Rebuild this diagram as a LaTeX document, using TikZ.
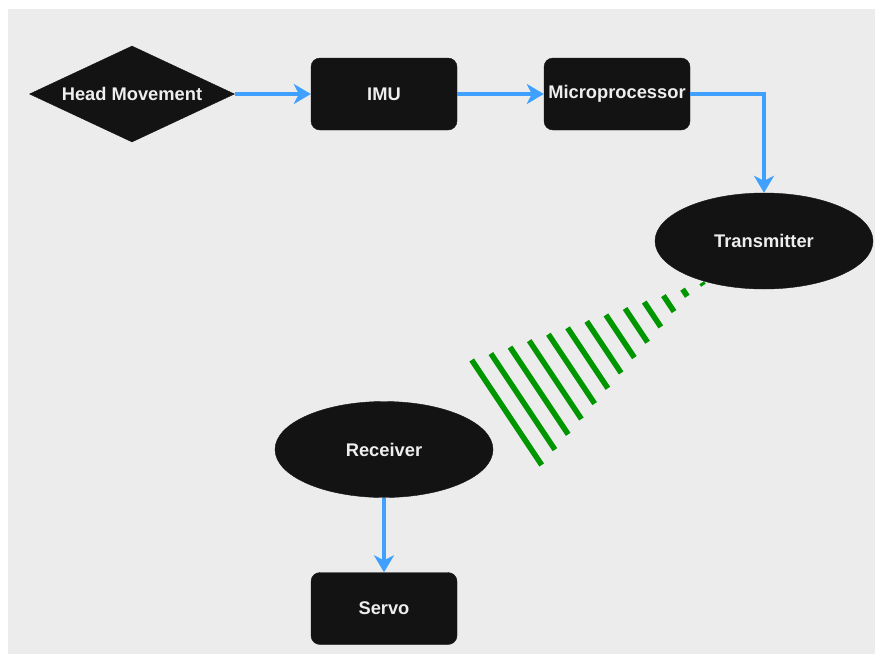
\documentclass[tikz,border=0pt]{standalone}
\usepackage{fontspec}
\setmainfont{Liberation Sans}
\usetikzlibrary{shapes.geometric,arrows.meta}
\definecolor{bg}{HTML}{ECECEC}
\definecolor{nodefill}{HTML}{131313}
\definecolor{txt}{HTML}{EEEEEE}
\definecolor{arrowblue}{HTML}{40A0FF}
\definecolor{sig}{HTML}{009600}
\begin{document}
\begin{tikzpicture}[x=1pt,y=-1pt,
  lbl/.style={text=txt, font=\bfseries\fontsize{18.3}{20}\selectfont, inner sep=0pt},
  box/.style={lbl, draw=nodefill, fill=nodefill, rounded corners=9pt, minimum width=146pt, minimum height=72pt},
  oval/.style={lbl, ellipse, draw=nodefill, fill=nodefill, minimum width=218pt, minimum height=96pt},
  decision/.style={lbl, diamond, aspect=2.135, draw=nodefill, fill=nodefill, minimum width=205pt, minimum height=96pt},
  flow/.style={draw=arrowblue, line width=3.5pt, -{Stealth[length=17pt, width=20pt, inset=5pt]}},
  signal/.style={draw=sig, line width=5.5pt, line cap=butt}
]
\useasboundingbox (0,0) rectangle (875,654);
\fill[white] (0,0) rectangle (875,654);
\fill[bg] (8,9) rectangle (875,654);

% wireless signal
\foreach \i in {0,...,11} {
  \draw[signal] (471.7+19.17*\i, 360-6.44*\i) -- ++({0.5547*(126.2-10.7*\i)}, {0.832*(126.2-10.7*\i)});
}
\draw[signal] (701.7, 282.7) -- ++(1.7, 2.5);

\node[decision] (head) at (132,94) {Head Movement};
\node[box] (imu) at (384,94) {IMU};
\node[box] (micro) at (617,94) {Microprocessor};
\node[oval] (trans) at (764,241) {Transmitter};
\node[oval] (recv) at (384,449.5) {Receiver};
\node[box] (servo) at (384,608.5) {Servo};

\draw[flow] (head.east) -- (imu.west);
\draw[flow] (imu.east) -- (micro.west);
\draw[flow] (micro.east) -| (trans.north);
\draw[flow] (recv.south) -- (servo.north);
\end{tikzpicture}
\end{document}
